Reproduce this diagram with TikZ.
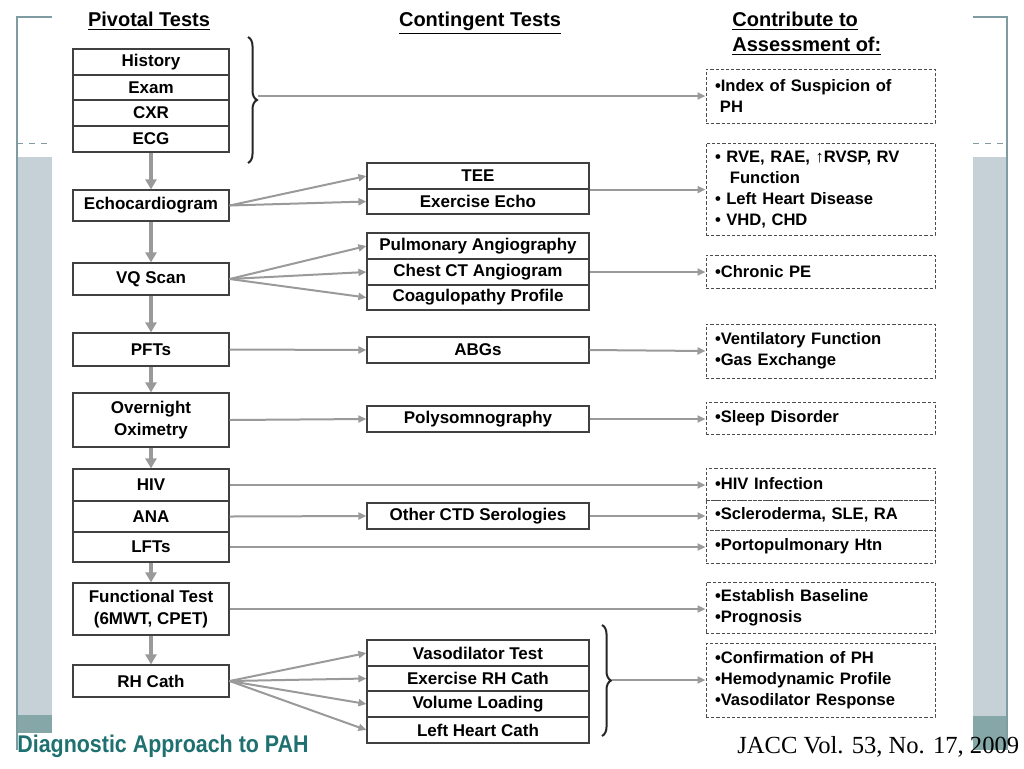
\documentclass[tikz,border=0pt]{standalone}
\usepackage{fontspec}
\setmainfont{Liberation Sans}
\newfontfamily\jaccfont{Liberation Serif}
\usetikzlibrary{arrows.meta,decorations.pathreplacing}
\definecolor{bandgray}{HTML}{C5D1D7}
\definecolor{bandteal}{HTML}{86A7A7}
\definecolor{framegray}{HTML}{7E9CA2}
\definecolor{titleteal}{HTML}{1F7070}
\definecolor{linkgray}{HTML}{9A9A9A}
\tikzset{
  pivot/.style={draw=black!75, line width=0.6pt, fill=white, minimum width=78pt,
    inner sep=0pt, align=center, font=\fontsize{8.5}{11}\selectfont\bfseries},
  contin/.style={pivot, minimum width=111pt},
  assess/.style={draw=black!70, line width=0.5pt, dash pattern=on 1.6pt off 1pt,
    inner xsep=4.5pt, inner ysep=0pt, text width=105.5pt, align=left,
    font=\fontsize{8.3}{10.5}\selectfont\bfseries},
  header/.style={font=\fontsize{10}{12.5}\selectfont\bfseries, inner sep=0pt},
  flow/.style={linkgray, line width=1pt, -{Triangle[length=4pt,width=3.5pt]}},
  down/.style={linkgray, line width=2pt, -{Triangle[length=5pt,width=5.5pt]}},
  curly/.style={black!85, line width=1pt, decorate, decoration={brace, amplitude=4.5pt}},
}
\begin{document}
\begin{tikzpicture}[x=0.5pt, y=-0.5pt]
\useasboundingbox (0,0) rectangle (1024,768);

% Slide frame
\fill[bandgray] (17,157) rectangle (52,715);
\fill[bandteal] (17,715) rectangle (52,733);
\fill[bandgray] (973,157) rectangle (1007,716);
\fill[bandteal] (973,716) rectangle (1007,750);
\draw[framegray, line width=0.6pt] (52,17) -- (17,17) -- (17,750);
\draw[framegray, line width=0.6pt] (973,17) -- (1007,17) -- (1007,750);
\draw[framegray, line width=0.5pt, dashed] (17,143) -- (52,143);
\draw[framegray, line width=0.5pt, dashed] (973,143) -- (1007,143);

% Headers
\node[header, anchor=base] (hpiv) at (149,26) {\underline{Pivotal Tests}};
\node[header, anchor=base] (hcon) at (480,26) {\underline{Contingent Tests}};
\node[header, anchor=base west, align=left] (hass) at (732,51)
  {\underline{Contribute to}\\\underline{Assessment of:}};

% Pivotal tests
\node[pivot, minimum height=13pt] (hist) at (151,62) {History};
\node[pivot, minimum height=12.5pt] (exam) at (151,87.5) {Exam};
\node[pivot, minimum height=13pt] (cxr) at (151,113) {CXR};
\node[pivot, minimum height=13pt] (ecg) at (151,139) {ECG};
\node[pivot, minimum height=15.5pt] (echo) at (151,205.5) {Echocardiogram};
\node[pivot, minimum height=16pt] (vq) at (151,279) {VQ Scan};
\node[pivot, minimum height=16.5pt] (pft) at (151,349.5) {PFTs};
\node[pivot, minimum height=27pt] (oxim) at (151,420) {Overnight\\Oximetry};
\node[pivot, minimum height=16pt] (hiv) at (151,485) {HIV};
\node[pivot, minimum height=15.5pt] (ana) at (151,516.5) {ANA};
\node[pivot, minimum height=15pt] (lft) at (151,547) {LFTs};
\node[pivot, minimum height=26pt] (func) at (151,609) {Functional Test\\(6MWT, CPET)};
\node[pivot, minimum height=16pt] (rhc) at (151,681) {RH Cath};

% Contingent tests
\node[contin, minimum height=13pt] (tee) at (478,176) {TEE};
\node[contin, minimum height=12.5pt] (exech) at (478,201.5) {Exercise Echo};
\node[contin, minimum height=13pt] (pulm) at (478,246) {Pulmonary Angiography};
\node[contin, minimum height=13pt] (ctang) at (478,272) {Chest CT Angiogram};
\node[contin, minimum height=12.5pt] (coag) at (478,297.5) {Coagulopathy Profile};
\node[contin, minimum height=13pt] (abg) at (478,350) {ABGs};
\node[contin, minimum height=13pt] (poly) at (478,419) {Polysomnography};
\node[contin, minimum height=13pt] (ctd) at (478,516) {Other CTD Serologies};
\node[contin, minimum height=13pt] (vaso) at (478,653) {Vasodilator Test};
\node[contin, minimum height=12.5pt] (exrh) at (478,678.5) {Exercise RH Cath};
\node[contin, minimum height=13pt] (vol) at (478,704) {Volume Loading};
\node[contin, minimum height=13pt] (lhc) at (478,730) {Left Heart Cath};

% Assessment boxes
\node[assess, minimum height=27pt] (idx) at (820.5,96)
  {\textbullet Index of Suspicion of\\\hspace*{0.3em}PH};
\node[assess, minimum height=46pt] (rve) at (820.5,189)
  {\textbullet{} RVE, RAE, ↑RVSP, RV\\\hspace*{0.9em}Function\\\textbullet{} Left Heart Disease\\\textbullet{} VHD, CHD};
\node[assess, minimum height=16.5pt] (cpe) at (820.5,271.5) {\textbullet Chronic PE};
\node[assess, minimum height=27pt] (vent) at (820.5,351)
  {\textbullet Ventilatory Function\\\textbullet Gas Exchange};
\node[assess, minimum height=16pt] (sleep) at (820.5,418) {\textbullet Sleep Disorder};
\node[assess, minimum height=16pt] (hivi) at (820.5,484) {\textbullet HIV Infection};
\node[assess, minimum height=15pt] (scl) at (820.5,515) {\textbullet Scleroderma, SLE, RA};
\node[assess, minimum height=16.5pt] (porto) at (820.5,546.5) {\textbullet Portopulmonary Htn};
\node[assess, minimum height=25.5pt] (base) at (820.5,607.5)
  {\textbullet Establish Baseline\\\textbullet Prognosis};
\node[assess, minimum height=37pt] (conf) at (820.5,680)
  {\textbullet Confirmation of PH\\\textbullet Hemodynamic Profile\\\textbullet Vasodilator Response};

% Braces
\draw[curly] (248,37) -- (248,163);
\coordinate (btop) at (258,96);
\draw[curly] (602,625) -- (602,736);
\coordinate (bbot) at (612,680);

% Pivotal sequence
\draw[down] (ecg.south) -- (echo.north);
\draw[down] (echo.south) -- (vq.north);
\draw[down] (vq.south) -- (pft.north);
\draw[down] (pft.south) -- (oxim.north);
\draw[down] (oxim.south) -- (hiv.north);
\draw[down] (lft.south) -- (func.north);
\draw[down] (func.south) -- (rhc.north);

% Links to contingent tests
\draw[flow] (echo.east) -- (tee.west);
\draw[flow] (echo.east) -- (exech.west);
\foreach \t in {pulm,ctang,coag}
  \draw[flow] (vq.east) -- (\t.west);
\draw[flow] (pft.east) -- (abg.west);
\draw[flow] (oxim.east) -- (poly.west);
\draw[flow] (ana.east) -- (ctd.west);
\foreach \t in {vaso,exrh,vol,lhc}
  \draw[flow] (rhc.east) -- (\t.west);

% Links to assessment
\draw[flow] (btop) -- (idx.west);
\draw[flow] (tee.south east) -- (tee.south east -| rve.west);
\draw[flow] (ctang.east) -- (ctang.east -| cpe.west);
\draw[flow] (abg.east) -- (vent.west);
\draw[flow] (poly.east) -- (poly.east -| sleep.west);
\draw[flow] (hiv.east) -- (hiv.east -| hivi.west);
\draw[flow] (ctd.east) -- (ctd.east -| scl.west);
\draw[flow] (lft.east) -- (lft.east -| porto.west);
\draw[flow] (func.east) -- (func.east -| base.west);
\draw[flow] (bbot) -- (conf.west);

% Footer
\node[anchor=west, inner sep=0pt, text=titleteal, font=\fontsize{10.5}{12}\selectfont\bfseries]
  (title) at (17,746) {\scalebox{1.02}[1.15]{Diagnostic Approach to PAH}};
\node[anchor=west, inner sep=0pt, font=\jaccfont\fontsize{12.3}{15}\selectfont]
  (src) at (737,747) {JACC Vol. 53, No. 17, 2009};
\end{tikzpicture}
\end{document}
